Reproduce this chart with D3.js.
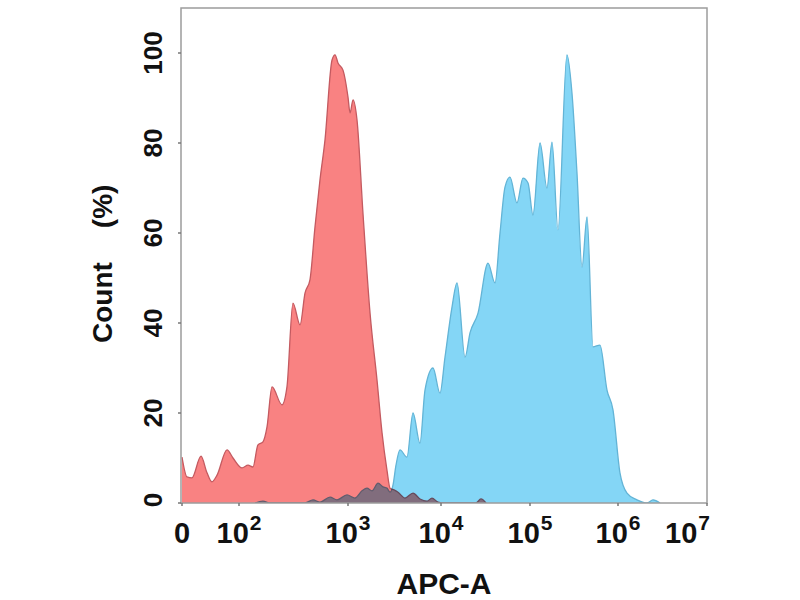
<!DOCTYPE html>
<html>
<head>
<meta charset="utf-8">
<script src="https://cdn.jsdelivr.net/npm/d3@7"></script>
<style>
body { margin: 0; background: #fff; }
text { font-family: "Liberation Sans", Arial, sans-serif; font-weight: bold; fill: #111; }
</style>
</head>
<body>
<svg id="chart" width="800" height="600"></svg>
<script>
// x values are in display units of the biexponential axis: 0 = zero, 2 = 10^2, 3 = 10^3 ...
const xTicks = [0, 2, 3, 4, 5, 6, 7];
const xTickBase = ["0", "10", "10", "10", "10", "10", "10"];
const xTickExp = ["", "2", "3", "4", "5", "6", "7"];
const yTicks = [0, 20, 40, 60, 80, 100];

// control sample (red)
const redHist = [
    [0.0, 10.2], [0.175, 5.8], [0.35, 5.6], [0.667, 10.4], [0.877, 6.7], [1.05, 4.7],
    [1.23, 6.2], [1.58, 11.8], [1.79, 10.0], [2.028, 7.8], [2.083, 8.4], [2.128, 8.0],
    [2.174, 12.9], [2.22, 13.6], [2.257, 16.9], [2.303, 25.8], [2.394, 21.8], [2.44, 25.8],
    [2.495, 44.4], [2.56, 39.6], [2.606, 46.7], [2.651, 49.6], [2.697, 61.3], [2.743, 71.8],
    [2.789, 80.7], [2.853, 98.4], [2.881, 99.6], [2.908, 97.8], [2.954, 96.2], [3.0, 90.2],
    [3.022, 86.7], [3.054, 89.6], [3.097, 85.1], [3.161, 64.4], [3.237, 42.2], [3.312, 27.3],
    [3.366, 15.6], [3.419, 7.3], [3.452, 3.3], [3.495, 2.9], [3.538, 2.4], [3.613, 1.1],
    [3.699, 2.2], [3.774, 0.9], [3.85, 0.4], [3.903, 1.1], [3.968, 0.2], [4.045, 0],
    [4.393, 0], [4.449, 0.9], [4.506, 0]
];

// stained sample (blue)
const blueHist = [
    [2.147, 0], [2.22, 0.4], [2.284, 0], [2.606, 0], [2.679, 0.7], [2.743, 0.2],
    [2.835, 1.3], [2.899, 0.7], [2.991, 1.8], [3.075, 1.1], [3.151, 2.7], [3.204, 3.3],
    [3.258, 2.7], [3.323, 4.4], [3.376, 3.6], [3.419, 3.3], [3.452, 2.4], [3.484, 4.0],
    [3.516, 8.4], [3.559, 11.8], [3.634, 10.2], [3.699, 20.0], [3.774, 13.3], [3.828, 25.1],
    [3.914, 30.0], [3.989, 24.4], [4.045, 32.4], [4.124, 43.6], [4.18, 48.9], [4.27, 32.4],
    [4.326, 37.8], [4.416, 42.2], [4.528, 53.3], [4.607, 48.9], [4.663, 60.0], [4.719, 70.2],
    [4.775, 72.4], [4.854, 66.7], [4.921, 72.2], [4.978, 71.1], [5.034, 64.0], [5.114, 80.0],
    [5.193, 70.0], [5.25, 80.2], [5.318, 60.7], [5.42, 99.6], [5.477, 91.1], [5.534, 73.3],
    [5.591, 52.4], [5.648, 63.6], [5.716, 34.7], [5.795, 35.1], [5.875, 25.1], [5.943, 20.7],
    [6.022, 6.7], [6.101, 2.2], [6.213, 0.7], [6.326, 0], [6.393, 0.7], [6.472, 0]
];

let margin = {left: 181, top: 8};
let width = 526, height = 495;

let svg = d3.select("#chart");
let g = svg.append("g").attr("transform", `translate(${margin.left},${margin.top})`);

// piecewise scale, the first decades are stretched like a biexponential display
let x = d3.scaleLinear()
    .domain(xTicks)
    .range([1, 58, 167, 260, 349, 437, 526]);
let y = d3.scaleLinear().domain([0, 110]).range([height, 0]);

svg.append("defs").append("clipPath").attr("id", "plot")
    .append("rect").attr("width", width).attr("height", height);

let area = d3.area()
    .curve(d3.curveMonotoneX)
    .x(d => x(d[0]))
    .y0(y(0))
    .y1(d => y(d[1]));
let line = d3.line()
    .curve(d3.curveMonotoneX)
    .x(d => x(d[0]))
    .y(d => y(d[1]));

let plot = g.append("g").attr("clip-path", "url(#plot)");

function drawHist(data, fill, stroke, blend) {
    let h = plot.append("g").style("mix-blend-mode", blend);
    h.append("path")
        .datum(data)
        .attr("d", area)
        .style("fill", fill);
    h.append("path")
        .datum(data)
        .attr("d", line)
        .style("fill", "none")
        .style("stroke", stroke)
        .style("stroke-width", 1.3)
        .style("stroke-linejoin", "round");
}

drawHist(redHist, "#f98282", "#c45a60", "normal");
drawHist(blueHist, "#84d6f6", "#63b4d6", "multiply");

// frame
g.append("rect")
    .attr("width", width)
    .attr("height", height)
    .style("fill", "none")
    .style("stroke", "#9c9c9c")
    .style("stroke-width", 1.5);

// x ticks
g.selectAll(".xtick")
    .data(xTicks)
    .join("line")
    .classed("xtick", true)
    .attr("x1", d => x(d)).attr("x2", d => x(d))
    .attr("y1", height).attr("y2", height + 3)
    .style("stroke", "#777")
    .style("stroke-width", 1.5);

let xl = g.selectAll(".xlabel")
    .data(xTicks)
    .join("text")
    .classed("xlabel", true)
    .attr("x", (d, i) => i == xTicks.length - 1 ? x(d) + 3 : x(d))
    .attr("y", height + 40)
    .attr("text-anchor", (d, i) => i == xTicks.length - 1 ? "end" : "middle")
    .style("font-size", "29px");
xl.append("tspan").text((d, i) => xTickBase[i]);
xl.append("tspan")
    .text((d, i) => xTickExp[i])
    .attr("dy", -13)
    .attr("dx", 1)
    .style("font-size", "21px");

// y ticks
g.selectAll(".ytick")
    .data(yTicks)
    .join("line")
    .classed("ytick", true)
    .attr("x1", -3).attr("x2", 0)
    .attr("y1", d => y(d)).attr("y2", d => y(d))
    .style("stroke", "#777")
    .style("stroke-width", 1.5);

g.selectAll(".ylabel")
    .data(yTicks)
    .join("text")
    .classed("ylabel", true)
    .attr("transform", d => `translate(-19,${d == 0 ? y(d) - 3 : y(d)}) rotate(-90)`)
    .attr("text-anchor", "middle")
    .style("font-size", "26px")
    .text(d => d);

// axis titles
let yt = svg.append("text")
    .attr("transform", "translate(112,343) rotate(-90)")
    .attr("text-anchor", "start")
    .style("font-size", "28px");
yt.append("tspan").text("Count");
yt.append("tspan").attr("dx", 34).text("(%)");

svg.append("text")
    .attr("x", 444)
    .attr("y", 594)
    .attr("text-anchor", "middle")
    .style("font-size", "30px")
    .text("APC-A");
</script>
</body>
</html>
